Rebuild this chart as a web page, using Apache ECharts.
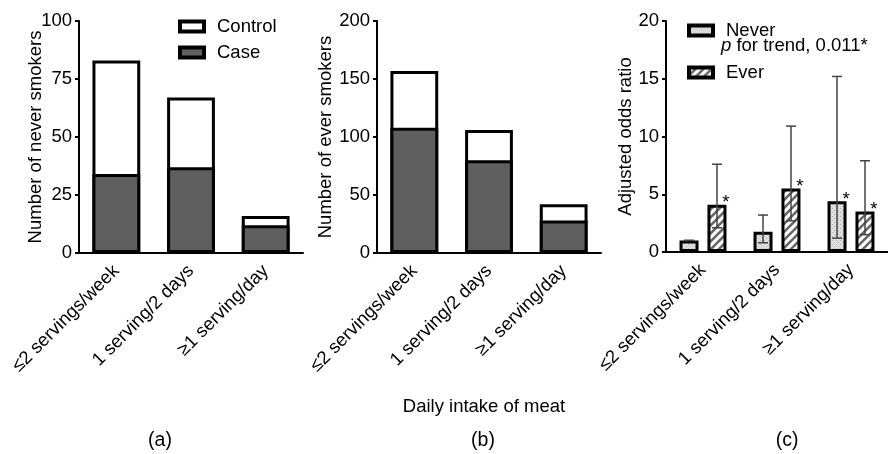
<!DOCTYPE html>
<html>
<head>
<meta charset="utf-8">
<script src="https://cdn.jsdelivr.net/npm/echarts@6/dist/echarts.min.js"></script>
<style>
  html, body { margin: 0; padding: 0; background: #fff; }
  #main { width: 888px; height: 454px; }
</style>
</head>
<body>
<div id="main"></div>
<script>
// categories (shared by all three panels)
const categories = ['≤2 servings/week', '1 serving/2 days', '≥1 serving/day'];

// panel (a): never smokers
const caseNever = [34, 37, 12];
const controlNever = [49, 30, 4];

// panel (b): ever smokers
const caseEver = [108, 80, 28];
const controlEver = [49, 26, 14];

// panel (c): adjusted odds ratio with CI
const orNever = [1.0, 1.75, 4.4];
const orNeverLow = [1.0, 0.8, 1.2];
const orNeverHigh = [1.0, 3.2, 15.2];
const sigNever = [false, false, true];
const orEver = [4.1, 5.5, 3.5];
const orEverLow = [2.1, 2.7, 1.5];
const orEverHigh = [7.6, 10.9, 7.9];
const sigEver = [true, true, true];

const FONT = "'Liberation Sans', Arial, sans-serif";
const FS = 18.5;
const chart = echarts.init(document.getElementById('main'));

// fill patterns
function dotPattern() {
  const c = document.createElement('canvas');
  c.width = 4; c.height = 4;
  const ctx = c.getContext('2d');
  ctx.fillStyle = '#dedede';
  ctx.fillRect(0, 0, 4, 4);
  ctx.fillStyle = '#b8b8b8';
  ctx.fillRect(0, 0, 1, 1);
  ctx.fillRect(2, 2, 1, 1);
  return { image: c, repeat: 'repeat' };
}
function hatchPattern() {
  const c = document.createElement('canvas');
  c.width = 8; c.height = 8;
  const ctx = c.getContext('2d');
  ctx.fillStyle = '#fff';
  ctx.fillRect(0, 0, 8, 8);
  ctx.strokeStyle = '#666';
  ctx.lineWidth = 2.6;
  ctx.beginPath();
  ctx.moveTo(-1, 9); ctx.lineTo(9, -1);
  ctx.moveTo(-1, 1); ctx.lineTo(1, -1);
  ctx.moveTo(7, 9); ctx.lineTo(9, 7);
  ctx.stroke();
  return { image: c, repeat: 'repeat' };
}
const neverFill = dotPattern();
const everFill = hatchPattern();

const axisLineStyle = { color: '#000', width: 2 };
const txt = { fontSize: FS, color: '#000', fontFamily: FONT };

function xAxisFor(grid) {
  return {
    type: 'category', gridIndex: grid, data: categories,
    axisLine: { lineStyle: axisLineStyle },
    axisTick: { show: false },
    axisLabel: Object.assign({ rotate: 45, interval: 0, margin: 15 }, txt)
  };
}
function yAxisFor(grid, max, interval, name, gap) {
  return {
    type: 'value', gridIndex: grid, min: 0, max: max, interval: interval,
    name: name, nameLocation: 'middle', nameGap: gap, nameMoveOverlap: false,
    nameTextStyle: txt,
    axisLine: { show: true, lineStyle: axisLineStyle },
    axisTick: { show: true, length: 4, lineStyle: axisLineStyle },
    axisLabel: Object.assign({ margin: 7 }, txt),
    splitLine: { show: false }
  };
}

const barBorder = { borderColor: '#000', borderWidth: 3 };

// total bar (control on top) drawn behind, case bar drawn over it
function stackedPair(grid, cases, controls) {
  const totals = cases.map((v, i) => v + controls[i]);
  return [
    { name: 'Control', type: 'bar', xAxisIndex: grid, yAxisIndex: grid,
      barCategoryGap: '36%', barGap: '-100%', data: totals,
      itemStyle: Object.assign({ color: '#fff' }, barBorder) },
    { name: 'Case', type: 'bar', xAxisIndex: grid, yAxisIndex: grid,
      barCategoryGap: '36%', barGap: '-100%', data: cases,
      itemStyle: Object.assign({ color: '#5f5f5f' }, barBorder) }
  ];
}

function errorSeries(low, high, offset) {
  return {
    type: 'custom', xAxisIndex: 2, yAxisIndex: 2, z: 10,
    data: low.map((l, i) => [i, l, high[i]]),
    renderItem: function (params, api) {
      const lo = api.coord([api.value(0), api.value(1)]);
      const hi = api.coord([api.value(0), api.value(2)]);
      const x = lo[0] + offset;
      const w = 5;
      const style = { stroke: '#444', lineWidth: 1.5 };
      return {
        type: 'group',
        children: [
          { type: 'line', shape: { x1: x, y1: lo[1], x2: x, y2: hi[1] }, style: style },
          { type: 'line', shape: { x1: x - w, y1: hi[1], x2: x + w, y2: hi[1] }, style: style },
          { type: 'line', shape: { x1: x - w, y1: lo[1], x2: x + w, y2: lo[1] }, style: style }
        ]
      };
    }
  };
}

function starLabel(flags) {
  return Object.assign({
    show: true, position: 'top', distance: 0, offset: [9, 8],
    formatter: p => (flags[p.dataIndex] ? '*' : '')
  }, txt);
}

const legendCommon = {
  orient: 'vertical', icon: 'rect', itemWidth: 24, itemHeight: 10,
  itemStyle: { borderColor: '#000', borderWidth: 4 },
  textStyle: Object.assign({ padding: [0, 0, 0, 8] }, txt)
};

const option = {
  animation: false,
  textStyle: { fontFamily: FONT },
  grid: [
    { left: 79, top: 21, width: 224, height: 232 },
    { left: 377, top: 21, width: 224, height: 232 },
    { left: 666, top: 21, width: 224, height: 231 }
  ],
  xAxis: [xAxisFor(0), xAxisFor(1), xAxisFor(2)],
  yAxis: [
    yAxisFor(0, 100, 25, 'Number of never smokers', 34),
    yAxisFor(1, 200, 50, 'Number of ever smokers', 42),
    yAxisFor(2, 20, 5, 'Adjusted odds ratio', 31)
  ],
  legend: [
    Object.assign({ data: ['Control', 'Case'], left: 173, top: 12, itemGap: 7 }, legendCommon),
    Object.assign({ data: ['Never', 'Ever'], left: 682, top: 16, itemGap: 23 }, legendCommon)
  ],
  title: [
    { text: 'Daily intake of meat', left: 479, top: 392, textAlign: 'center',
      textStyle: Object.assign({ fontWeight: 'normal' }, txt) },
    { text: '(a)', left: 155, top: 426, textAlign: 'center',
      textStyle: Object.assign({ fontWeight: 'normal' }, txt, { fontSize: 19.5 }) },
    { text: '(b)', left: 478, top: 426, textAlign: 'center',
      textStyle: Object.assign({ fontWeight: 'normal' }, txt, { fontSize: 19.5 }) },
    { text: '(c)', left: 782, top: 426, textAlign: 'center',
      textStyle: Object.assign({ fontWeight: 'normal' }, txt, { fontSize: 19.5 }) }
  ],
  graphic: [
    {
      type: 'text', left: 721, top: 36,
      style: {
        text: '{i|p} for trend, 0.011*',
        fontSize: FS, fill: '#000', fontFamily: FONT,
        rich: { i: { fontStyle: 'italic', fontSize: FS, fontFamily: FONT } }
      }
    }
  ],
  series: [].concat(
    stackedPair(0, caseNever, controlNever),
    stackedPair(1, caseEver, controlEver),
    [
      { name: 'Never', type: 'bar', xAxisIndex: 2, yAxisIndex: 2,
        barWidth: 19, barGap: '47%', data: orNever,
        itemStyle: Object.assign({ color: neverFill }, barBorder),
        label: starLabel(sigNever) },
      { name: 'Ever', type: 'bar', xAxisIndex: 2, yAxisIndex: 2,
        barWidth: 19, barGap: '47%', data: orEver,
        itemStyle: Object.assign({ color: everFill }, barBorder),
        label: starLabel(sigEver) },
      errorSeries(orNeverLow, orNeverHigh, -14),
      errorSeries(orEverLow, orEverHigh, 14)
    ]
  )
};

chart.setOption(option);
</script>
</body>
</html>
